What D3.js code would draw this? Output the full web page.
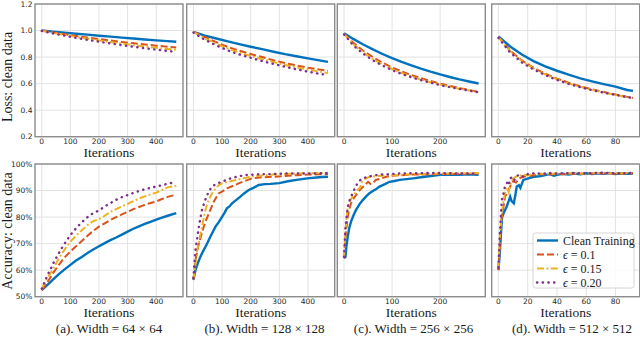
<!DOCTYPE html>
<html>
<head>
<meta charset="utf-8">
<script src="https://cdn.jsdelivr.net/npm/d3@7"></script>
<style>
  body { margin: 0; background: #fff; }
  svg { display: block; }
  .tick-label { font-family: "DejaVu Sans", sans-serif; font-size: 7.5px; fill: #262626; }
  .serif { font-family: "Liberation Serif", "DejaVu Serif", serif; fill: #1a1a1a; }
</style>
</head>
<body>
<svg width="640" height="338"></svg>
<script>
// ---- data ----
const seriesNames = ["Clean Training", "0.1", "0.15", "0.20"]
const captions = ["(a). Width = 64 × 64", "(b). Width = 128 × 128", "(c). Width = 256 × 256", "(d). Width = 512 × 512"]
const xTicksA = [0, 100, 200, 300, 400]
const xTicksB = [0, 100, 200, 300, 400]
const xTicksC = [0, 100, 200]
const xTicksD = [0, 20, 40, 60, 80]
const lossTicks = [0.2, 0.4, 0.6, 0.8, 1.0, 1.2]
const accTicks = [50, 60, 70, 80, 90, 100]
const xMax = [470, 470, 280, 92]

// loss, (a) 64x64
const lossA_clean = [[0,1.0],[40,0.992],[80,0.984],[120,0.976],[160,0.969],[200,0.961],[240,0.954],[280,0.947],[320,0.94],[360,0.933],[400,0.926],[440,0.92],[470,0.915]]
const lossA_e10 = [[0,1.0],[40,0.985],[80,0.972],[120,0.959],[160,0.947],[200,0.936],[240,0.925],[280,0.914],[320,0.904],[360,0.895],[400,0.886],[440,0.878],[470,0.872]]
const lossA_e15 = [[0,0.998],[40,0.982],[80,0.966],[120,0.952],[160,0.938],[200,0.925],[240,0.913],[280,0.901],[320,0.89],[360,0.88],[400,0.87],[440,0.861],[470,0.855]]
const lossA_e20 = [[0,0.997],[40,0.978],[80,0.961],[120,0.945],[160,0.93],[200,0.916],[240,0.903],[280,0.89],[320,0.878],[360,0.867],[400,0.856],[440,0.846],[470,0.84]]
// loss, (b) 128x128
const lossB_clean = [[0,0.99],[40,0.962],[80,0.94],[120,0.918],[160,0.898],[200,0.878],[240,0.86],[280,0.84],[320,0.822],[360,0.806],[400,0.79],[440,0.775],[470,0.764]]
const lossB_e10 = [[0,0.99],[40,0.95],[80,0.912],[120,0.876],[160,0.848],[200,0.823],[240,0.8],[280,0.776],[320,0.755],[360,0.737],[400,0.72],[440,0.706],[470,0.697]]
const lossB_e15 = [[0,0.99],[40,0.94],[80,0.9],[120,0.864],[160,0.834],[200,0.808],[240,0.784],[280,0.762],[320,0.74],[360,0.722],[400,0.706],[440,0.69],[470,0.68]]
const lossB_e20 = [[0,0.985],[40,0.93],[80,0.888],[120,0.85],[160,0.82],[200,0.795],[240,0.77],[280,0.748],[320,0.727],[360,0.708],[400,0.69],[440,0.674],[470,0.664]]
// loss, (c) 256x256
const lossC_clean = [[0,0.98],[20,0.935],[40,0.895],[60,0.858],[80,0.823],[100,0.792],[120,0.764],[140,0.738],[160,0.713],[180,0.69],[200,0.669],[220,0.65],[240,0.632],[260,0.616],[280,0.601]]
const lossC_e10 = [[0,0.975],[20,0.905],[40,0.848],[60,0.8],[80,0.758],[100,0.722],[120,0.692],[140,0.665],[160,0.641],[180,0.62],[200,0.6],[220,0.583],[240,0.567],[260,0.552],[280,0.538]]
const lossC_e15 = [[0,0.975],[20,0.895],[40,0.835],[60,0.786],[80,0.745],[100,0.71],[120,0.68],[140,0.654],[160,0.631],[180,0.611],[200,0.593],[220,0.577],[240,0.562],[260,0.548],[280,0.535]]
const lossC_e20 = [[0,0.97],[20,0.885],[40,0.825],[60,0.776],[80,0.736],[100,0.702],[120,0.673],[140,0.648],[160,0.626],[180,0.607],[200,0.589],[220,0.574],[240,0.56],[260,0.547],[280,0.535]]
// loss, (d) 512x512
const lossD_clean = [[0,0.955],[8,0.88],[16,0.82],[24,0.77],[32,0.73],[40,0.697],[48,0.667],[56,0.64],[64,0.617],[72,0.596],[80,0.577],[88,0.552],[92,0.545]]
const lossD_e10 = [[0,0.95],[8,0.85],[16,0.775],[24,0.72],[32,0.675],[40,0.638],[48,0.607],[56,0.58],[64,0.557],[72,0.537],[80,0.518],[88,0.5],[92,0.492]]
const lossD_e15 = [[0,0.95],[8,0.845],[16,0.77],[24,0.715],[32,0.67],[40,0.633],[48,0.602],[56,0.576],[64,0.553],[72,0.533],[80,0.515],[88,0.498],[92,0.49]]
const lossD_e20 = [[0,0.945],[8,0.835],[16,0.76],[24,0.707],[32,0.664],[40,0.628],[48,0.598],[56,0.573],[64,0.551],[72,0.532],[80,0.515],[88,0.499],[92,0.491]]

// accuracy (%), (a)
const accA_clean = [[0,52.5],[20,54.5],[40,56.5],[60,58.5],[80,60.3],[100,62],[120,63.6],[140,65],[160,66.5],[180,67.8],[200,69],[220,70.2],[240,71.3],[260,72.3],[280,73.4],[300,74.5],[320,75.6],[340,76.5],[360,77.4],[380,78.2],[400,79],[420,79.8],[440,80.5],[470,81.5]]
const accA_e10 = [[0,52.5],[20,55.5],[40,59],[60,62],[80,64.8],[100,67],[120,69],[140,71],[160,73],[180,74.8],[200,76.4],[220,77.6],[240,78.9],[260,80],[280,81],[300,82],[320,83],[340,83.8],[360,84.6],[380,85.3],[400,85.9],[420,86.8],[440,87.6],[470,88.5]]
const accA_e15 = [[0,53],[20,57],[40,60.5],[60,64.5],[80,67.8],[100,70.7],[120,73],[140,75],[160,77],[180,78.5],[200,79.2],[220,80.5],[240,82],[260,83],[280,84],[300,85],[320,86],[340,87],[360,87.8],[380,88.5],[400,89.2],[420,90.2],[440,91.2],[470,91.8]]
const accA_e20 = [[0,53],[20,58],[40,62.5],[60,66.5],[80,70],[100,73.2],[120,75.8],[140,78],[160,80],[180,81.5],[200,82.5],[220,84],[240,85.3],[260,86.5],[280,87.5],[300,88.3],[320,89.1],[340,89.8],[360,90.5],[380,91],[400,91.5],[420,92],[440,92.6],[470,93.2]]
// accuracy (%), (b)
const accB_clean = [[0,56.3],[7,60],[15,62.5],[24,65],[33,67],[42,68.8],[50,70.5],[59,72.6],[68,74.5],[77,76.4],[88,78],[100,80.1],[108,81.5],[117,83.3],[126,84],[135,85.2],[150,86.5],[164,87.7],[178,89],[193,90.2],[210,91],[228,92.1],[250,92.4],[270,92.5],[300,92.8],[330,93.5],[360,94],[398,94.6],[430,94.9],[450,95.1],[470,95.2]]
const accB_e10 = [[0,56.5],[7,63.8],[13,67],[19,70],[27,73],[36,76.4],[45,79],[54,81.4],[62,83.5],[71,85.8],[80,87.5],[89,89],[100,89.6],[117,90.8],[135,91.6],[158,92.7],[180,93.6],[204,94.6],[240,95],[280,95.2],[320,95.5],[360,95.8],[400,96],[440,96.1],[470,96.2]]
const accB_e15 = [[0,56.5],[7,62],[13,67.6],[20,71],[30,76.4],[36,79.5],[42,82.7],[50,85.5],[59,87.7],[68,89.5],[77,90.8],[88,92],[100,92.7],[125,93.4],[150,94],[175,94.6],[200,95.2],[240,95.7],[280,96],[320,96.2],[360,96.4],[400,96.5],[440,96.6],[470,96.7]]
const accB_e20 = [[0,57],[7,67.6],[13,72],[19,76.4],[25,80],[30,82.7],[39,85.8],[48,88.3],[56,90],[65,91.5],[80,92.6],[100,93.3],[115,94],[130,94.6],[155,95.3],[180,95.8],[210,96],[240,96.2],[280,96.2],[320,96.4],[360,96.4],[400,96.4],[440,96.5],[470,96.5]]
// accuracy (%), (c)
const accC_clean = [[0,64.5],[3,65],[5,69],[7.7,72.6],[11,76],[14.6,78.3],[20,80.8],[25,82.7],[32,84.8],[39,86.4],[46,87.8],[53,89],[60,89.8],[67,90.6],[74,91.5],[85,92.4],[95,93.3],[105,93.6],[116,94],[130,94.3],[144,94.6],[160,95],[180,95.5],[200,95.9],[220,96],[240,95.9],[260,96.1],[280,95.9]]
const accC_e10 = [[0,64.5],[3,72.6],[7.7,80.1],[11,83],[14.6,85.2],[20,87],[25,88.3],[30,89.5],[36,90.8],[43,92],[50,93.3],[55,92.5],[60,92.7],[66,94],[75,94.4],[88,95.2],[100,95.6],[120,95.8],[140,96],[170,96.1],[200,96.2],[240,96.3],[280,96.4]]
const accC_e15 = [[0,65],[3,75],[7.7,83.9],[12,86],[18,87.7],[23,89],[28,90.2],[33,91],[38,93.5],[45,94.5],[53,95.2],[65,95.4],[80,95.6],[100,95.8],[130,96],[160,96.2],[200,96.4],[240,96.5],[280,96.6]]
const accC_e20 = [[0,65],[3,76],[7.7,83.9],[12,86.5],[18,89],[23,91],[28,92.7],[33,93.8],[39,94.6],[50,95.2],[60,95.6],[75,96],[90,96.1],[110,96.4],[140,96.5],[170,96.6],[200,96.6],[240,96.4],[280,96.4]]
// accuracy (%), (d)
const accD_clean = [[0,60],[1,67],[2,76],[2.5,80],[4,82],[5.7,84],[7,86],[8,87.7],[9,86],[10.5,85.2],[11.5,88],[12.5,91.5],[14,92],[15,91],[17,94],[20,94.5],[24,95.2],[28,95.4],[32,95.8],[35,96.2],[38,95.6],[40,95.9],[44,96.3],[48,96],[52,96.4],[56,96.1],[60,96.5],[64,96.2],[68,96.5],[72,96.3],[76,96.6],[80,96.2],[84,96.5],[88,96.3],[92,96.4]]
const accD_e10 = [[0,60],[1,70],[2.3,80],[3.5,84],[4.5,87.7],[6,89],[8,91.5],[10,93.5],[12,93],[14,94.5],[17,95.2],[20,95.5],[25,95.8],[30,96.2],[35,96],[40,96.3],[45,96.1],[50,96.4],[60,96.3],[70,96.5],[80,96.3],[92,96.5]]
const accD_e15 = [[0,61],[1,72],[2.3,82],[3.5,86],[4.5,89],[6,91],[7,89.5],[8,92],[10,94.5],[12,95.2],[14,95.5],[17,96],[20,95.8],[25,96.2],[30,96.3],[40,96.4],[50,96.5],[60,96.4],[70,96.6],[80,96.5],[92,96.6]]
const accD_e20 = [[0,61],[1,74],[2.3,86.4],[3.5,89],[4.5,91.5],[6,93],[7,92],[8,94.6],[10,95.2],[11,94],[13,95.6],[15,96],[17,95.2],[20,96.2],[25,96.5],[30,96.3],[35,96.6],[40,96.4],[50,96.6],[60,96.5],[70,96.7],[80,96.5],[92,96.6]]

// ---- layout ----
const svg = d3.select('svg')
const colors = ['#0072BD', '#D95319', '#EDB120', '#7E2F8E']
const dashes = [null, '7,3', '7,2.5,1.8,2.5', '0.3,5.4']
const widths = [2.4, 2, 2, 2.4]
const panelLeft = [35, 186.7, 337.3, 491.7]
const panelW = 148
const rows = [{ top: 4, bottom: 136.7 }, { top: 164, bottom: 296.7 }]

const lossSeries = [
  [lossA_clean, lossA_e10, lossA_e15, lossA_e20],
  [lossB_clean, lossB_e10, lossB_e15, lossB_e20],
  [lossC_clean, lossC_e10, lossC_e15, lossC_e20],
  [lossD_clean, lossD_e10, lossD_e15, lossD_e20]
]
const accSeries = [
  [accA_clean, accA_e10, accA_e15, accA_e20],
  [accB_clean, accB_e10, accB_e15, accB_e20],
  [accC_clean, accC_e10, accC_e15, accC_e20],
  [accD_clean, accD_e10, accD_e15, accD_e20]
]
const xTicks = [xTicksA, xTicksB, xTicksC, xTicksD]

const drawPanel = (col, row, series) => {
  const r = rows[row]
  const left = panelLeft[col]
  const m = xMax[col] * 0.05
  const x = d3.scaleLinear().domain([-m, xMax[col] + m]).range([left, left + panelW])
  const y = row === 0
    ? d3.scaleLinear().domain([0.2, 1.2]).range([r.bottom, r.top])
    : d3.scaleLinear().domain([50, 100]).range([r.bottom, r.top])
  const yTicks = row === 0 ? lossTicks : accTicks

  const g = svg.append('g')

  // grid
  g.selectAll('line.gx').data(xTicks[col]).enter().append('line')
    .attr('x1', d => x(d)).attr('x2', d => x(d))
    .attr('y1', r.top).attr('y2', r.bottom)
    .attr('stroke', '#e3e3e3').attr('stroke-width', 1)
  g.selectAll('line.gy').data(yTicks).enter().append('line')
    .attr('x1', left).attr('x2', left + panelW)
    .attr('y1', d => y(d)).attr('y2', d => y(d))
    .attr('stroke', '#e3e3e3').attr('stroke-width', 1)

  // curves
  const clip = `clip-${row}-${col}`
  g.append('clipPath').attr('id', clip).append('rect')
    .attr('x', left).attr('y', r.top).attr('width', panelW).attr('height', r.bottom - r.top)
  const line = d3.line().x(d => x(d[0])).y(d => y(d[1]))
  series.forEach((s, i) => {
    g.append('path').datum(s)
      .attr('clip-path', `url(#${clip})`)
      .attr('d', line)
      .attr('fill', 'none')
      .attr('stroke', colors[i])
      .attr('stroke-width', widths[i])
      .attr('stroke-dasharray', dashes[i])
      .attr('stroke-linecap', i === 3 ? 'round' : 'butt')
  })

  // frame
  g.append('rect')
    .attr('x', left).attr('y', r.top).attr('width', panelW).attr('height', r.bottom - r.top)
    .attr('fill', 'none').attr('stroke', '#8c8c8c').attr('stroke-width', 1.4)

  // x tick labels
  g.selectAll('text.xt').data(xTicks[col]).enter().append('text')
    .attr('class', 'tick-label')
    .attr('x', d => x(d)).attr('y', r.bottom + 7.2)
    .attr('text-anchor', 'middle')
    .text(d => d)

  g.append('text').attr('class', 'serif')
    .attr('x', left + panelW / 2).attr('y', r.bottom + 20.5)
    .attr('text-anchor', 'middle').style('font-size', '13.5px')
    .text('Iterations')

  if (col === 0) {
    g.selectAll('text.yt').data(yTicks).enter().append('text')
      .attr('class', 'tick-label')
      .attr('x', left - 2.5).attr('y', d => y(d) + 2.7)
      .attr('text-anchor', 'end')
      .text(d => row === 0 ? d.toFixed(1) : d + '%')
  }
}

for (let c = 0; c < 4; c++) {
  drawPanel(c, 0, lossSeries[c])
  drawPanel(c, 1, accSeries[c])
}

// y labels
svg.append('text').attr('class', 'serif')
  .attr('transform', 'translate(12,77) rotate(-90)')
  .attr('text-anchor', 'middle').style('font-size', '14px')
  .text('Loss: clean data')
svg.append('text').attr('class', 'serif')
  .attr('transform', 'translate(12,231) rotate(-90)')
  .attr('text-anchor', 'middle').style('font-size', '14px')
  .text('Accuracy: clean data')

// captions
const capX = [109, 264.5, 413.5, 572]
svg.selectAll('text.cap').data(captions).enter().append('text')
  .attr('class', 'serif')
  .attr('x', (d, i) => capX[i]).attr('y', 333)
  .attr('text-anchor', 'middle').style('font-size', '13px')
  .text(d => d)

// legend
const lg = svg.append('g').attr('transform', 'translate(533,233)')
lg.append('rect').attr('width', 101).attr('height', 55).attr('rx', 2.5)
  .attr('fill', 'white').attr('fill-opacity', 0.85)
  .attr('stroke', '#cccccc').attr('stroke-width', 0.8)
seriesNames.forEach((name, i) => {
  const yy = 7.5 + i * 14
  lg.append('line').attr('x1', 4).attr('x2', 25).attr('y1', yy).attr('y2', yy)
    .attr('stroke', colors[i]).attr('stroke-width', widths[i])
    .attr('stroke-dasharray', dashes[i])
    .attr('stroke-linecap', i === 3 ? 'round' : 'butt')
  const t = lg.append('text').attr('class', 'serif')
    .attr('x', 30).attr('y', yy + 4).style('font-size', '12px')
  if (i === 0) {
    t.text(name)
  } else {
    t.append('tspan').style('font-style', 'italic').text('ϵ')
    t.append('tspan').text(' = ' + name)
  }
})
</script>
</body>
</html>
